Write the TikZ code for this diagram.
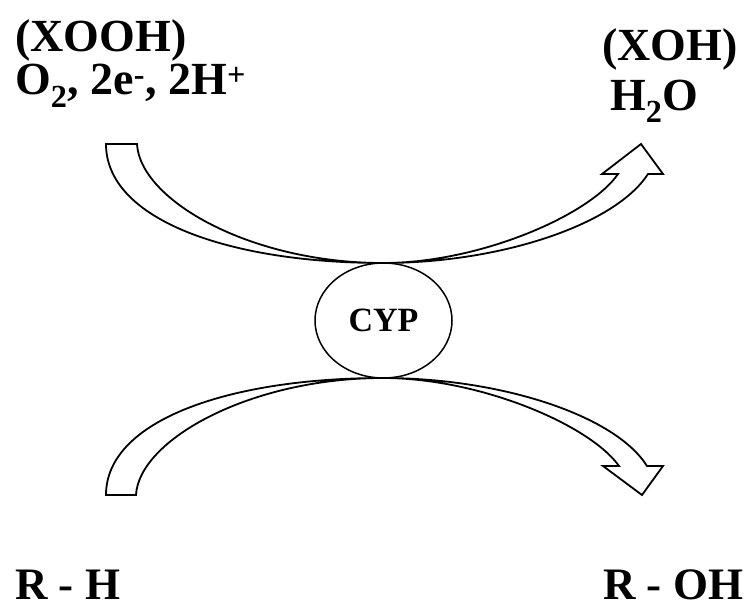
\documentclass[tikz,border=0pt]{standalone}
\usepackage{fontspec}
\setmainfont{Liberation Serif}
\usetikzlibrary{shapes.geometric}
\begin{document}
\begin{tikzpicture}[x=1pt,y=-1pt,
  lbl/.style={font=\fontsize{46}{50}\selectfont\bfseries, inner sep=0pt, anchor=base west},
  blbl/.style={font=\fontsize{45}{50}\selectfont\bfseries, inner sep=0pt, anchor=base west},
  bigarrow/.style={draw=black, line width=1.8pt, fill=white, line join=miter}]
\useasboundingbox (0,0) rectangle (752,610);
% top arrow
\coordinate (tt) at (383,263);
\draw[bigarrow] (106,144) -- (137,144)
  .. controls (140,200) and (250,263) .. (tt)
  .. controls (480,263) and (590,215) .. (618,174)
  -- (602,174) -- (641,144) -- (663,174) -- (648,174)
  .. controls (615,225) and (500,263) .. (tt)
  .. controls (230,263) and (106,220) .. cycle;
% bottom arrow
\coordinate (bt) at (383,378);
\draw[bigarrow] (106,495) -- (136,495)
  .. controls (139,440) and (250,378) .. (bt)
  .. controls (480,378) and (590,425) .. (619,466)
  -- (603,466) -- (642,495) -- (663,466) -- (647,466)
  .. controls (615,415) and (500,378) .. (bt)
  .. controls (230,378) and (106,420) .. cycle;
% enzyme
\node[ellipse, draw, line width=1.5pt, fill=white, minimum width=137pt, minimum height=115pt, inner sep=0pt,
  font=\fontsize{34}{38}\selectfont\bfseries] (cyp) at (383.5,320.5) {CYP};
% labels
\node[lbl] (xooh) at (15,52) {(XOOH)};
\node[lbl] (o2) at (15,95) {O\textsubscript{2}, 2e\textsuperscript{-}, 2H\textsuperscript{+}};
\node[lbl] (xoh) at (602,60) {(XOH)};
\node[lbl] (h2o) at (610,110) {H\textsubscript{2}O};
\node[blbl] (rh) at (15,599) {R - H};
\node[blbl] (roh) at (603,599) {R - OH};
\end{tikzpicture}
\end{document}
